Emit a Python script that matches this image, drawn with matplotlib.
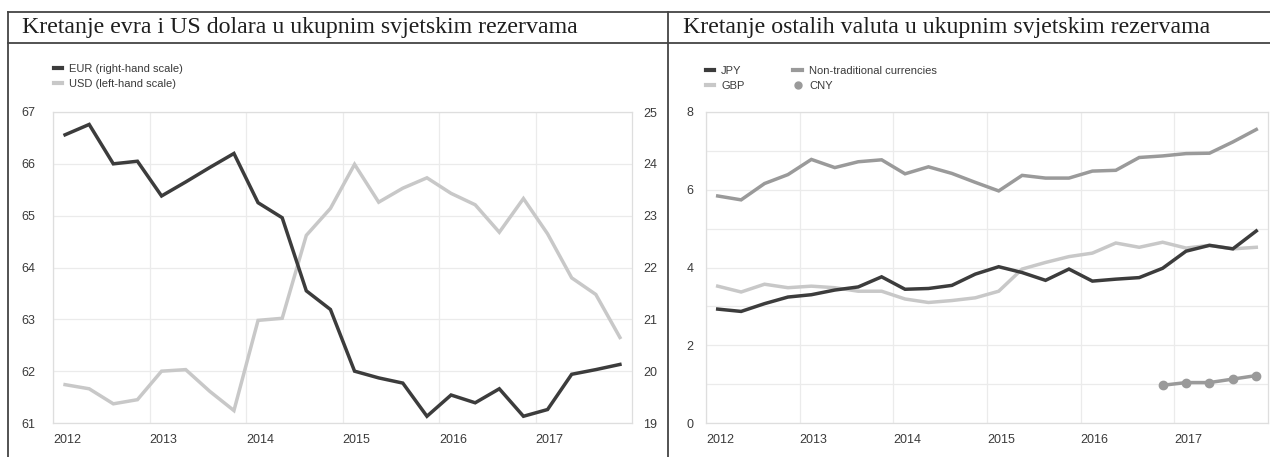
import numpy as np
import pandas as pd
import matplotlib
matplotlib.use("Agg")
import matplotlib.pyplot as plt
from matplotlib.lines import Line2D

# quarterly data, 2012Q1 - 2017Q4
quarters = pd.period_range("2012Q1", "2017Q4", freq="Q")

eur = [24.56, 24.76, 24.00, 24.05, 23.38, 23.65, 23.93, 24.20,
       23.25, 22.96, 21.55, 21.19, 20.00, 19.87, 19.77, 19.13,
       19.54, 19.39, 19.66, 19.13, 19.26, 19.94, 20.03, 20.13]
usd = [61.74, 61.66, 61.37, 61.45, 62.00, 62.03, 61.61, 61.24,
       62.98, 63.02, 64.62, 65.14, 65.99, 65.26, 65.53, 65.73,
       65.43, 65.21, 64.68, 65.33, 64.65, 63.80, 63.48, 62.65]

jpy = [2.93, 2.87, 3.07, 3.24, 3.30, 3.42, 3.50, 3.76,
       3.44, 3.46, 3.54, 3.83, 4.02, 3.87, 3.67, 3.96,
       3.65, 3.70, 3.74, 3.98, 4.42, 4.57, 4.48, 4.94]
gbp = [3.52, 3.37, 3.57, 3.48, 3.52, 3.48, 3.39, 3.39,
       3.19, 3.10, 3.15, 3.22, 3.39, 3.96, 4.13, 4.28,
       4.37, 4.63, 4.52, 4.65, 4.50, 4.57, 4.48, 4.52]
nontrad = [5.84, 5.74, 6.16, 6.39, 6.78, 6.57, 6.72, 6.77,
           6.41, 6.59, 6.42, 6.19, 5.97, 6.37, 6.30, 6.30,
           6.48, 6.50, 6.83, 6.87, 6.93, 6.94, 7.23, 7.55]
# CNY reported from 2016Q4 only
cny = [np.nan] * 19 + [0.97, 1.04, 1.04, 1.13, 1.22]

years = [2012, 2013, 2014, 2015, 2016, 2017]
title_left = "Kretanje evra i US dolara u ukupnim svjetskim rezervama"
title_right = "Kretanje ostalih valuta u ukupnim svjetskim rezervama"

# x position = middle of each quarter in decimal years
x = np.array([q.year + (q.quarter - 1) * 0.25 + 0.125 for q in quarters])

W, H = 1270, 457
DARK = "#3c3c3c"
LIGHT = "#c8c8c8"
MID = "#9a9a9a"
GRID = "#ebebeb"
TXT = "#3a3a3a"
SANS = ["Liberation Sans Narrow", "Liberation Sans", "DejaVu Sans"]
plt.rcParams["font.family"] = SANS

fig = plt.figure(figsize=(W / 100, H / 100), dpi=100)


def px_axes(x0, y0, x1, y1):
    # pixel box (from top-left) -> figure axes
    return fig.add_axes([x0 / W, 1 - y1 / H, (x1 - x0) / W, (y1 - y0) / H])


def style(ax):
    ax.set_xlim(2012, 2018)
    ax.set_xticks(years)
    ax.set_xticklabels([str(y) for y in years], ha="left")
    ax.grid(True, color=GRID, lw=0.9)
    ax.set_axisbelow(True)
    for s in ax.spines.values():
        s.set_color("#dedede")
        s.set_linewidth(0.9)
    ax.tick_params(length=0, labelsize=9, colors=TXT)
    ax.tick_params(axis="x", pad=8)


# left panel: EUR and USD
ax1 = px_axes(53, 112, 632, 423)
style(ax1)
ax1.set_ylim(61, 67)
ax1.set_yticks(range(61, 68))
ax1.tick_params(axis="y", pad=13)
ax1b = ax1.twinx()
ax1b.set_ylim(19, 25)
ax1b.set_yticks(range(19, 26))
ax1b.tick_params(length=0, labelsize=9, colors=TXT, pad=8)
for s in ax1b.spines.values():
    s.set_visible(False)

ax1.plot(x, usd, color=LIGHT, lw=2.5, solid_joinstyle="miter")
ax1b.plot(x, eur, color=DARK, lw=2.5, solid_joinstyle="miter")

ax1.legend([Line2D([], [], color=DARK, lw=3), Line2D([], [], color=LIGHT, lw=3)],
           ["EUR (right-hand scale)", "USD (left-hand scale)"],
           loc="upper left", bbox_to_anchor=(48 / W, 1 - 58 / H),
           bbox_transform=fig.transFigure, frameon=False, fontsize=8,
           handlelength=0.8, handletextpad=0.6, labelspacing=0.5,
           borderpad=0, labelcolor=TXT)

# right panel: other currencies
ax2 = px_axes(706, 112, 1268, 423)
style(ax2)
ax2.set_ylim(0, 8)
ax2.set_yticks(range(0, 9))
ax2.set_yticklabels([str(v) if v % 2 == 0 else "" for v in range(0, 9)])
ax2.tick_params(axis="y", pad=9)

ax2.plot(x, nontrad, color=MID, lw=2.5, solid_joinstyle="miter")
ax2.plot(x, gbp, color=LIGHT, lw=2.5, solid_joinstyle="miter")
ax2.plot(x, jpy, color=DARK, lw=2.5, solid_joinstyle="miter")
ax2.plot(x, cny, color=MID, lw=2.5, marker="o", ms=6)

h = [Line2D([], [], color=DARK, lw=3), Line2D([], [], color=LIGHT, lw=3),
     Line2D([], [], color=MID, lw=3),
     Line2D([], [], color=MID, lw=0, marker="o", ms=5)]
ax2.legend(h, ["JPY", "GBP", "Non-traditional currencies", "CNY"], ncol=2,
           loc="upper left", bbox_to_anchor=(700 / W, 1 - 60 / H),
           bbox_transform=fig.transFigure, frameon=False, fontsize=8,
           handlelength=0.8, handletextpad=0.6, labelspacing=0.5,
           columnspacing=4.4, borderpad=0, labelcolor=TXT)

# table-like frame around the two panels
frame = dict(color="#444444", lw=1.3, transform=fig.transFigure)
for xs, ys in [((8, W), (12, 12)), ((8, W), (43, 43)),
               ((8, 8), (12, H)), ((668, 668), (12, H))]:
    fig.add_artist(Line2D([v / W for v in xs], [1 - v / H for v in ys], **frame))

fig.text(22 / W, 1 - 28 / H, title_left, family=["Liberation Serif", "DejaVu Serif"],
         fontsize=17.2, color="#1e1e1e", va="center", ha="left")
fig.text(683 / W, 1 - 28 / H, title_right, family=["Liberation Serif", "DejaVu Serif"],
         fontsize=17.2, color="#1e1e1e", va="center", ha="left")

fig.savefig("out.png", dpi=100, facecolor="white")
